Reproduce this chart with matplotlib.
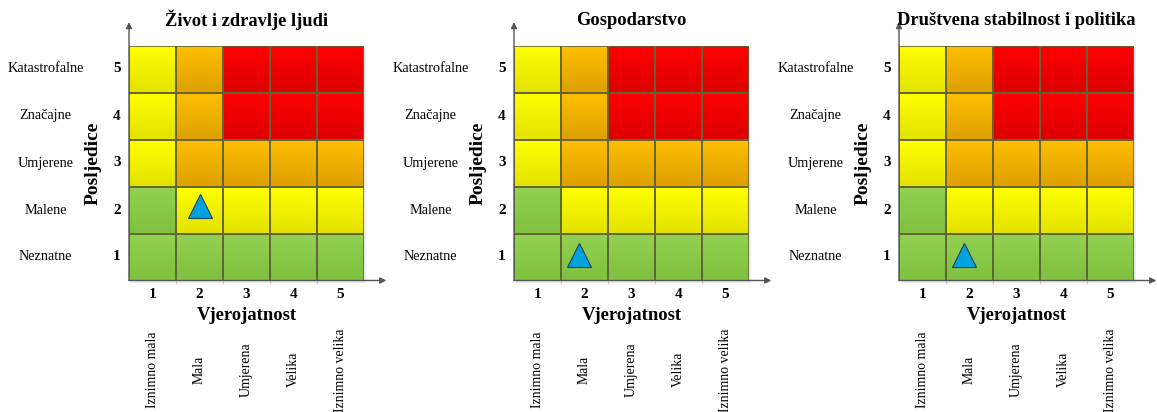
import numpy as np
import matplotlib
matplotlib.use("Agg")
import matplotlib.pyplot as plt
from matplotlib.colors import to_rgb
from matplotlib.patches import Rectangle

# ---------------- data ----------------
titles = ["Život i zdravlje ljudi", "Gospodarstvo", "Društvena stabilnost i politika"]
prob_ticks = [1, 2, 3, 4, 5]
prob_labels = ["Iznimno mala", "Mala", "Umjerena", "Velika", "Iznimno velika"]
cons_ticks = [1, 2, 3, 4, 5]
cons_labels = ["Neznatne", "Malene", "Umjerene", "Značajne", "Katastrofalne"]
x_title = "Vjerojatnost"
y_title = "Posljedice"
# risk level per cell: rows = consequence 1..5, cols = probability 1..5
# 0 = green, 1 = yellow, 2 = orange, 3 = red
risk_matrix = [
    [0, 0, 0, 0, 0],
    [0, 1, 1, 1, 1],
    [1, 2, 2, 2, 2],
    [1, 2, 3, 3, 3],
    [1, 2, 3, 3, 3],
]
marker_x = [2.0, 1.88, 1.88]
marker_y = [2.08, 1.04, 1.04]

# ---------------- style ----------------
level_colors = {
    0: ("#93d152", "#7fc23f"),
    1: ("#ffff00", "#e3e300"),
    2: ("#ffc000", "#dfa000"),
    3: ("#ff0000", "#dc0000"),
}
edge_col = "#656238"
serif = ["Liberation Serif", "DejaVu Serif"]
plt.rcParams["font.family"] = serif

W, H = 1157, 412
fig = plt.figure(figsize=(W / 100, H / 100), dpi=100)

grid_left_px = [129, 514, 899]
grid_top_px = 45.5
grid_size_px = 235

def grad_img(top, bot, n=64):
    t = np.linspace(0, 1, n)[:, None]
    a = np.array(to_rgb(top))[None, :]
    b = np.array(to_rgb(bot))[None, :]
    return (a * (1 - t) + b * t)[:, None, :]

for p in range(3):
    l = grid_left_px[p] / W
    b = (H - grid_top_px - grid_size_px) / H
    ax = fig.add_axes([l, b, grid_size_px / W, grid_size_px / H])
    ax.set_xlim(0.5, 5.5)
    ax.set_ylim(0.5, 5.5)
    ax.axis("off")

    # shadow
    ax.add_patch(Rectangle((0.5 + 0.05, 0.5 - 0.05), 5, 5, facecolor="#ececec",
                           edgecolor="none", zorder=0.5, clip_on=False))
    for i, yv in enumerate(cons_ticks):
        for j, xv in enumerate(prob_ticks):
            top, bot = level_colors[risk_matrix[i][j]]
            ax.imshow(grad_img(top, bot), extent=[xv - 0.5, xv + 0.5, yv - 0.5, yv + 0.5],
                      aspect="auto", interpolation="bilinear", zorder=1)
            ax.add_patch(Rectangle((xv - 0.5, yv - 0.5), 1, 1, facecolor="none",
                                   edgecolor=edge_col, lw=1.2, zorder=2))
    ax.set_xlim(0.5, 5.5)
    ax.set_ylim(0.5, 5.5)

    # axes arrows
    ax.annotate("", xy=(1.095, 0), xytext=(0, 0), xycoords="axes fraction",
                arrowprops=dict(arrowstyle="-|>", color="#555555", lw=1.0,
                                mutation_scale=9, shrinkA=0, shrinkB=0), zorder=3)
    ax.annotate("", xy=(0, 1.10), xytext=(0, 0), xycoords="axes fraction",
                arrowprops=dict(arrowstyle="-|>", color="#555555", lw=1.0,
                                mutation_scale=9, shrinkA=0, shrinkB=0), zorder=3)
    # small ticks under x axis
    for xv in prob_ticks[1:]:
        ax.plot([xv - 0.5, xv - 0.5], [0.5, 0.44], color="#c8c8c8", lw=0.8, clip_on=False)

    # marker
    ax.plot(marker_x[p], marker_y[p], marker="^", markersize=17, color="#00a2e0",
            markeredgecolor="#1f3f5a", markeredgewidth=0.8, zorder=4, clip_on=False)

    # y labels
    ytr = ax.get_yaxis_transform()
    for yv, lab in zip(cons_ticks, cons_labels):
        ax.text(-0.051, yv, str(yv), transform=ytr, ha="center", va="center",
                fontsize=11, fontweight="bold")
        ax.text(-0.355, yv, lab, transform=ytr, ha="center", va="center", fontsize=10.3)
    ax.text(-0.151, 0.5, y_title, transform=ax.transAxes, rotation=90, ha="center",
            va="center", fontsize=14, fontweight="bold")

    # x labels
    xtr = ax.get_xaxis_transform()
    for xv, lab in zip(prob_ticks, prob_labels):
        ax.text(xv, -0.06, str(xv), transform=xtr, ha="center", va="center",
                fontsize=11, fontweight="bold")
        ax.text(xv, -0.38, lab, transform=xtr, rotation=90, ha="center", va="center",
                fontsize=9.9)
    ax.text(0.5, -0.15, x_title, transform=ax.transAxes, ha="center", va="center",
            fontsize=13.4, fontweight="bold")

    ax.text(0.5, 1.108, titles[p], transform=ax.transAxes, ha="center", va="center",
            fontsize=13.3, fontweight="bold")

fig.savefig("out.png", dpi=100)
